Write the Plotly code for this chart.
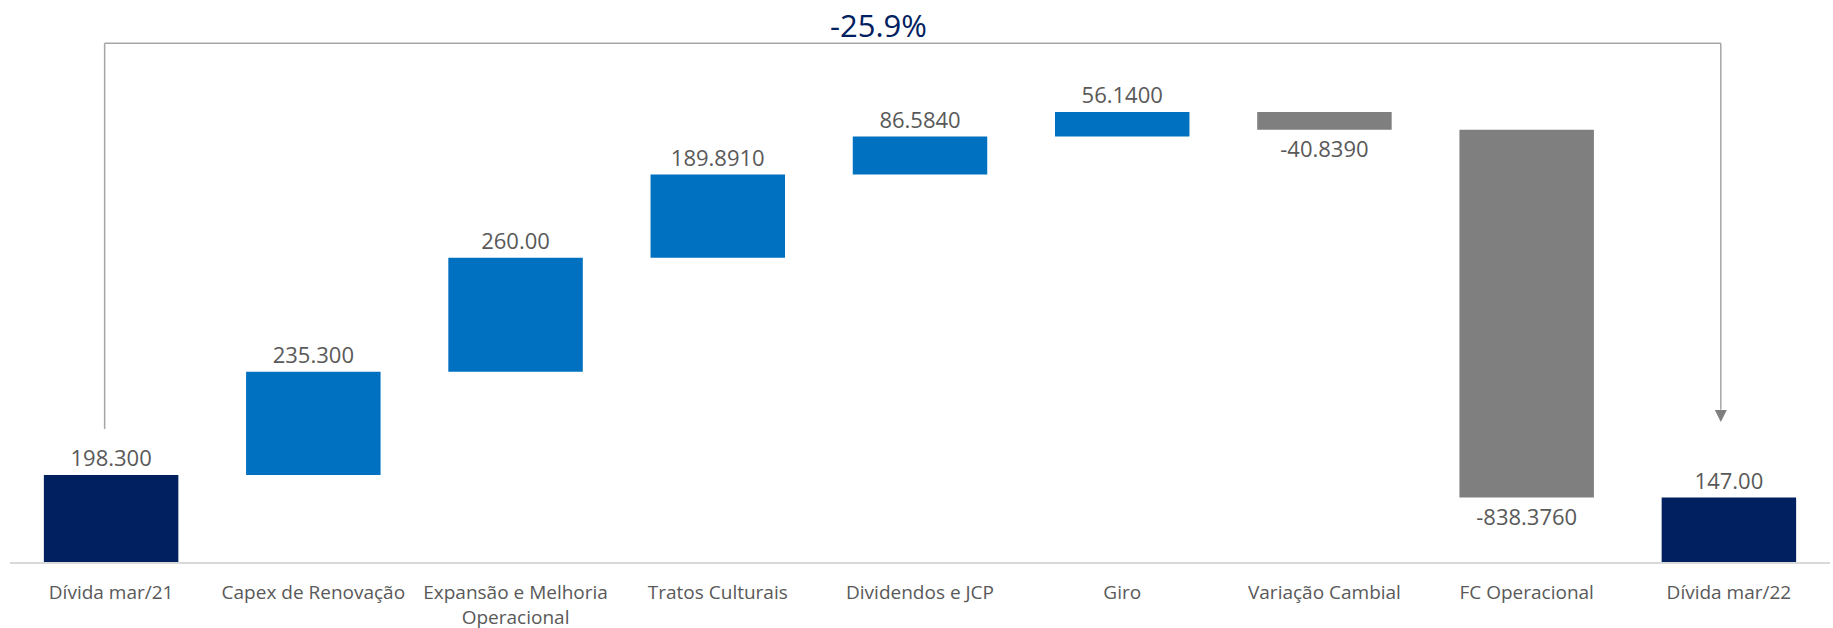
import plotly.graph_objects as go

# Debt bridge: opening debt, movements, closing debt
categories = [
    "Dívida mar/21",
    "Capex de Renovação",
    "Expansão e Melhoria<br>Operacional",
    "Tratos Culturais",
    "Dividendos e JCP",
    "Giro",
    "Variação Cambial",
    "FC Operacional",
    "Dívida mar/22",
]
values = [198.3, 235.3, 260.0, 189.891, 86.584, 56.14, -40.839, -838.376, 147.0]
measures = ["absolute"] + ["relative"] * 7 + ["absolute"]
value_labels = ["198.300", "235.300", "260.00", "189.8910", "86.5840",
                "56.1400", "-40.8390", "-838.3760", "147.00"]
change_label = "-25.9%"

NAVY = "#002060"
BLUE = "#0070C0"
GREY = "#7F7F7F"
TEXT_GREY = "#595959"
FONT = "Open Sans"

fig = go.Figure()
fig.add_trace(go.Waterfall(
    x=categories,
    y=values,
    measure=measures,
    text=value_labels,
    textinfo="text",
    textposition="outside",
    constraintext="none",
    textfont=dict(family=FONT, size=22, color=TEXT_GREY),
    increasing=dict(marker=dict(color=BLUE)),
    decreasing=dict(marker=dict(color=GREY)),
    totals=dict(marker=dict(color=NAVY)),
    connector=dict(visible=False),
    cliponaxis=False,
    hoverinfo="skip",
))

# Bracket from the opening bar to the closing bar
y_top = 1183
left_x, right_x = -0.032, 7.96
left_bottom = values[0] + 105
right_tip = values[-1] + 172
line_style = dict(color="#A6A6A6", width=1.5)
fig.add_shape(type="line", xref="x", yref="y", x0=left_x, x1=left_x,
              y0=left_bottom, y1=y_top, line=line_style)
fig.add_shape(type="line", xref="x", yref="y", x0=left_x, x1=right_x,
              y0=y_top, y1=y_top, line=line_style)
fig.add_shape(type="line", xref="x", yref="y", x0=right_x, x1=right_x,
              y0=y_top, y1=right_tip + 30, line=line_style)
fig.add_annotation(x=right_x, y=right_tip, ax=right_x, ay=right_tip + 32,
                   xref="x", yref="y", axref="x", ayref="y",
                   text="", showarrow=True, arrowhead=2, arrowsize=1.6,
                   arrowwidth=1.5, arrowcolor=GREY, standoff=0)
fig.add_annotation(x=0.477, y=1.009, xref="paper", yref="paper",
                   text=change_label, showarrow=False,
                   font=dict(family=FONT, size=31, color=NAVY),
                   xanchor="center", yanchor="middle")

fig.update_layout(
    width=1833,
    height=628,
    margin=dict(l=10, r=3, t=30, b=66, autoexpand=False),
    paper_bgcolor="white",
    plot_bgcolor="white",
    showlegend=False,
    waterfallgap=0.335,
    font=dict(family=FONT, color=TEXT_GREY),
)
fig.update_xaxes(
    automargin=False,
    showgrid=False,
    showline=True,
    linecolor="#D9D9D9",
    linewidth=2,
    ticks="outside",
    ticklen=12,
    tickcolor="rgba(0,0,0,0)",
    tickfont=dict(family=FONT, size=19, color=TEXT_GREY),
    fixedrange=True,
)
fig.update_yaxes(visible=False, range=[0, 1213], fixedrange=True)

fig.write_html("out.html", config={"displayModeBar": False})
